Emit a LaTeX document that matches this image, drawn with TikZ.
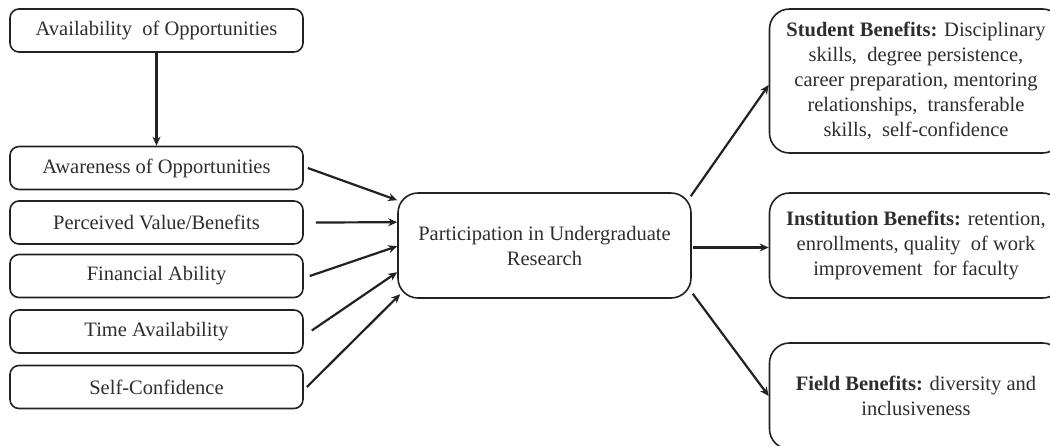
\documentclass[tikz,border=0pt]{standalone}
\usepackage{fontspec}
\setmainfont{Liberation Serif}
\usetikzlibrary{arrows.meta,calc}
\definecolor{txt}{HTML}{2E2E2E}
\definecolor{ln}{HTML}{222222}
\tikzset{
  leftbox/.style={draw=ln, line width=1.6pt, rounded corners=9pt, minimum width=293pt, minimum height=43pt, inner sep=0pt, text=txt, font=\fontsize{20.5}{25}\selectfont},
  bigbox/.style={draw=ln, line width=1.6pt, rounded corners=20pt, minimum width=293pt, inner sep=0pt, align=center, text=txt, font=\fontsize{20.5}{25}\selectfont},
  arr/.style={draw=ln, line width=2.2pt, -{Stealth[length=9pt,width=8pt]}},
  lnk/.style={draw=ln, line width=2.2pt}
}
\begin{document}
\begin{tikzpicture}[x=1pt,y=-1pt]
\useasboundingbox (0,0) rectangle (1050,445);
\clip (0,0) rectangle (1050,445);
\fill[white] (0,0) rectangle (1050,445);
% left column
\node[leftbox] (avail) at (156.5,30.5) {Availability\ \ of Opportunities};
\node[leftbox] (aware) at (156.5,168) {Awareness of Opportunities};
\node[leftbox] (perc)  at (156.5,222.5) {Perceived Value/Benefits};
\node[leftbox] (fin)   at (156.5,276) {Financial Ability};
\node[leftbox] (time)  at (156.5,331.5) {Time Availability};
\node[leftbox] (self)  at (156.5,387) {Self-Confidence};
% center
\node[bigbox, minimum height=105pt] (part) at (544.5,245.5) {Participation in Undergraduate\\Research};
% right column
\node[bigbox, minimum height=144pt] (stud) at (916,81) {\textbf{Student Benefits:} Disciplinary\\skills,\ \ degree persistence,\\career preparation, mentoring\\relationships,\ \ transferable\\skills,\ \ self-confidence};
\node[bigbox, minimum height=105pt] (inst) at (916,245.5) {\textbf{Institution Benefits:} retention,\\enrollments, quality\ \ of work\\improvement\ \ for faculty};
\node[bigbox, minimum height=106pt] (field) at (916,396) {\textbf{Field Benefits:} diversity and\\inclusiveness};
% arrows
\draw[arr] (avail.south) -- (aware.north);
\draw[arr] ($(aware.east)+(4,0)$) -- ($(part.north west)+(0,8)$);
\draw[arr] ($(perc.east)+(12,0)$) -- ($(part.north west)+(0,30)$);
\draw[arr] ($(fin.east)+(6,0)$) -- ($(part.north west)+(0,54)$);
\draw[arr] ($(time.east)+(8,-1)$) -- ($(part.north west)+(0,80)$);
\draw[arr] ($(self.east)+(3,0)$) -- ($(part.north west)+(3,102)$);
\draw[arr] ($(part.north east)+(-1,4)$) -- ($(stud.west)+(0,4)$);
\draw[arr] ($(part.east)+(1,2)$) -- ($(inst.west)+(0,2)$);
\draw[arr] ($(part.south east)+(1,-5)$) -- (field.west);
\end{tikzpicture}
\end{document}
